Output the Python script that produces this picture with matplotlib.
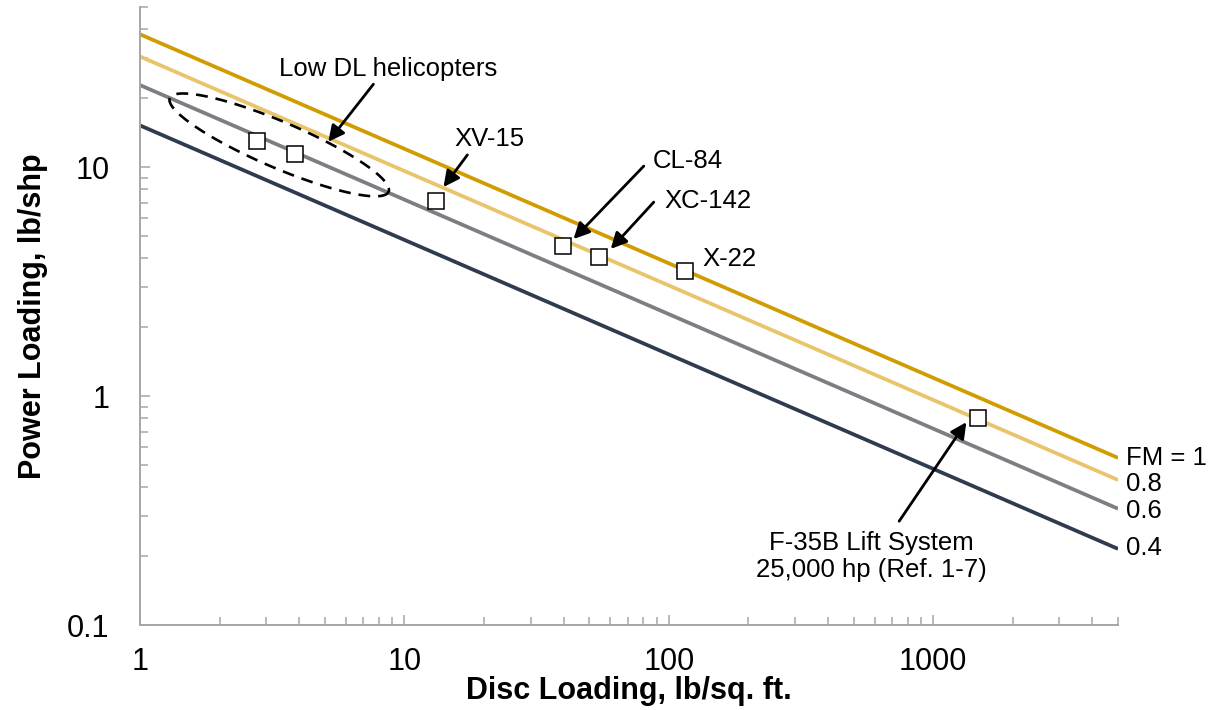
import numpy as np
import matplotlib.pyplot as plt
from matplotlib.ticker import LogLocator, NullFormatter, FixedLocator, FixedFormatter

plt.rcParams['font.family'] = ['Liberation Sans', 'DejaVu Sans']

# ideal hover lines, power loading at the two ends of the disc loading range
fm_labels = ['FM = 1', '0.8', '0.6', '0.4']
fm_label_y = [0.537, 0.414, 0.315, 0.216]
dl_ends = [1, 5000]
pl_ends = [[38.0, 0.537],
           [30.4, 0.430],
           [22.8, 0.322],
           [15.2, 0.215]]
line_colors = ['#D09C00', '#E8C46A', '#7B7E83', '#2F3B4F']

# aircraft points (disc loading, power loading)
craft_dl = [2.77, 3.87, 13.2, 39.7, 54.3, 115, 1480]
craft_pl = [13.0, 11.4, 7.1, 4.52, 4.05, 3.52, 0.80]

fig = plt.figure(figsize=(12.23, 7.10), dpi=100)
ax = fig.add_axes([0.1145, 0.1197, 0.7997, 0.8704])

for lab, ly, pl, c in zip(fm_labels, fm_label_y, pl_ends, line_colors):
    ax.plot(dl_ends, pl, color=c, lw=2.7, solid_capstyle='butt', zorder=2)
    ax.annotate(lab, xy=(dl_ends[1], ly), xytext=(6, 0), textcoords='offset points',
                ha='left', va='center', fontsize=18.5)

ax.plot(craft_dl, craft_pl, ls='none', marker='s', ms=12, mfc='white', mec='black',
        mew=1.1, zorder=4)

ax.set_xscale('log')
ax.set_yscale('log')
ax.set_xlim(1, 5000)
ax.set_ylim(0.1, 50)

for s in ['top', 'right']:
    ax.spines[s].set_visible(False)
for s in ['left', 'bottom']:
    ax.spines[s].set_color('#A6A6A6')
    ax.spines[s].set_linewidth(1.4)

ax.xaxis.set_major_locator(FixedLocator([1, 10, 100, 1000]))
ax.xaxis.set_major_formatter(FixedFormatter(['1', '10', '100', '1000']))
ax.yaxis.set_major_locator(FixedLocator([0.1, 1, 10]))
ax.yaxis.set_major_formatter(FixedFormatter(['0.1', '1', '10']))
for axis in (ax.xaxis, ax.yaxis):
    axis.set_minor_locator(LogLocator(base=10, subs=np.arange(2, 10)))
    axis.set_minor_formatter(NullFormatter())
ax.tick_params(which='both', direction='in', color='#A6A6A6', width=1.1, labelsize=22)
ax.tick_params(which='major', length=7.5)
ax.tick_params(which='minor', length=5.5)
ax.tick_params(axis='x', which='major', pad=16)
ax.tick_params(axis='y', which='major', pad=22)

ax.set_xlabel('Disc Loading, lb/sq. ft.', fontsize=22, fontweight='bold', labelpad=-1)
ax.set_ylabel('Power Loading, lb/shp', fontsize=22, fontweight='bold', labelpad=14)

# dashed ellipse round the low disc loading helicopters, built in screen pixels
fig.canvas.draw()
bb = ax.get_window_extent()
px_dec_x = bb.width / np.log10(5000 / 1)
px_dec_y = bb.height / np.log10(50 / 0.1)
cx, cy = np.log10(3.36), np.log10(12.5)
a, b, ang = 119, 23, np.radians(23.2)
t = np.linspace(0, 2 * np.pi, 300)
u, v = a * np.cos(t), b * np.sin(t)
dx = u * np.cos(ang) - v * np.sin(ang)
dy = -(u * np.sin(ang) + v * np.cos(ang))
ax.plot(10 ** (cx + dx / px_dec_x), 10 ** (cy + dy / px_dec_y), color='black', lw=1.9,
        ls=(0, (4.5, 3.0)), zorder=3)

arrow = dict(arrowstyle='-|>', color='black', lw=2, mutation_scale=24, shrinkA=0, shrinkB=0)
# (text, text position, arrow tail, arrow head)
notes = [
    ('Low DL helicopters', (8.7, 26.8), (7.63, 23.0), (5.15, 12.9)),
    ('XV-15', (21.0, 13.2), (17.3, 11.3), (14.05, 8.18)),
    ('CL-84', (118, 10.6), (80.4, 10.1), (43.6, 4.85)),
    ('XC-142', (140.6, 7.1), (87.7, 7.03), (60.3, 4.39)),
    ('X-22', (170, 3.96), None, None),
]
for txt, pos, tail, head in notes:
    ax.text(*pos, txt, ha='center', va='center', fontsize=18.5)
    if tail is not None:
        ax.annotate('', xy=head, xytext=tail, arrowprops=arrow)

ax.text(582, 0.2, 'F-35B Lift System\n25,000 hp (Ref. 1-7)', ha='center', va='center',
        fontsize=18.5, linespacing=1.15)
ax.annotate('', xy=(1334, 0.769), xytext=(743, 0.284), arrowprops=arrow)

fig.savefig('out.png', dpi=100)
